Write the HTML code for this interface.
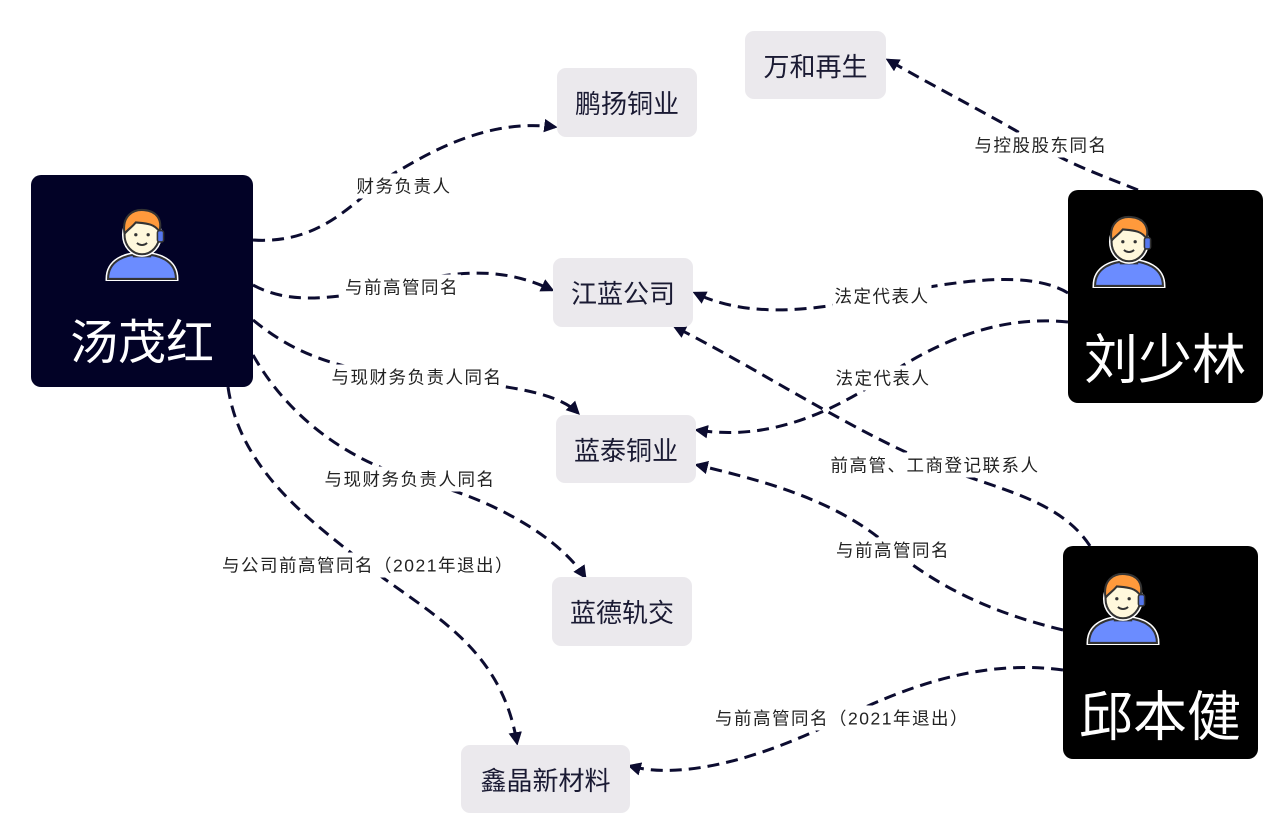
<!DOCTYPE html>
<html><head><meta charset="utf-8"><style>
body{margin:0;width:1288px;height:828px;background:#fff;position:relative;overflow:hidden;font-family:"Liberation Sans","Noto Sans CJK SC",sans-serif}
.b{position:absolute;background:#ebe9ed;border-radius:9px;color:#1a1a33;font-size:26px;display:flex;align-items:center;justify-content:center}
.p{position:absolute;border-radius:10px;color:#fff}
.p span{position:absolute;white-space:nowrap;transform:translate(-50%,-50%)}
.l{position:absolute;background:#fff;font-size:17.5px;letter-spacing:1.5px;color:#222;white-space:nowrap;transform:translate(-50%,-50%);padding:0 2px}
svg{position:absolute;left:0;top:0}
</style></head><body>
<svg width="1288" height="828">
<defs><marker id="a" viewBox="0 0 10 10" refX="8" refY="5" markerWidth="4.5" markerHeight="4.5" orient="auto"><path d="M0,0 L10,5 L0,10 z" fill="#0c0c30"/></marker>
<symbol id="av" viewBox="0 0 72 72">
<path d="M3,70 C3,52 20,46 36,46 C52,46 69,52 69,70 Z" fill="#6b8cff" stroke="#fff" stroke-width="5"/>
<path d="M3,70 C3,52 20,46 36,46 C52,46 69,52 69,70 Z" fill="#6b8cff" stroke="#333" stroke-width="2"/>
<rect x="28" y="38" width="16" height="10" fill="#fff8dc" stroke="#333" stroke-width="2"/>
<ellipse cx="36" cy="27" rx="17" ry="19" fill="#fff8dc" stroke="#fff" stroke-width="5"/>
<ellipse cx="36" cy="27" rx="17" ry="19" fill="#fff8dc" stroke="#333" stroke-width="2"/>
<path d="M19,26 C16,8 28,2 38,3 C50,4 56,12 53,24 C48,16 40,16 30,15 C26,20 22,22 19,26Z" fill="#ff9a3c" stroke="#333" stroke-width="2"/>
<circle cx="30" cy="27" r="1.6" fill="#333"/><circle cx="42" cy="27" r="1.6" fill="#333"/>
<path d="M31,35 Q36,39 41,35" fill="none" stroke="#333" stroke-width="1.8"/>
<rect x="51" y="23" width="6" height="11" rx="2" fill="#5577ee" stroke="#333" stroke-width="1.5"/>
</symbol></defs>
<g fill="none" stroke="#0c0c30" stroke-width="3" stroke-dasharray="12,7" marker-end="url(#a)">
<path d="M253,240 C330,245 360,190 400,170 C450,140 500,120 555,127"/>
<path d="M253,285 C290,305 330,298 380,290 C450,270 500,265 552,290"/>
<path d="M253,320 C290,350 330,370 420,378 C520,385 560,395 578,413"/>
<path d="M253,355 C290,420 350,460 410,478 C500,500 560,540 585,577"/>
<path d="M228,387 C240,470 310,520 360,560 C420,610 500,640 517,743"/>
<path d="M1138,190 C1100,175 1060,160 1040,145 C1000,120 940,90 888,60"/>
<path d="M1068,293 C1030,270 960,280 880,296 C800,315 740,315 695,293"/>
<path d="M1068,322 C1000,315 940,340 883,378 C820,420 760,440 697,430"/>
<path d="M1090,546 C1060,500 1000,490 935,465 C850,430 760,370 675,327"/>
<path d="M1063,630 C980,610 930,580 893,550 C840,500 760,480 697,465"/>
<path d="M1063,670 C990,660 920,680 842,718 C760,760 680,780 630,766"/>
</g>
</svg>
<div class="l" style="left:404px;top:186px">财务负责人</div>
<div class="l" style="left:402px;top:287px">与前高管同名</div>
<div class="l" style="left:417px;top:377px">与现财务负责人同名</div>
<div class="l" style="left:410px;top:479px">与现财务负责人同名</div>
<div class="l" style="left:368px;top:565px">与公司前高管同名（2021年退出）</div>
<div class="l" style="left:1041px;top:145px">与控股股东同名</div>
<div class="l" style="left:882px;top:296px">法定代表人</div>
<div class="l" style="left:883px;top:378px">法定代表人</div>
<div class="l" style="left:935px;top:465px">前高管、工商登记联系人</div>
<div class="l" style="left:893px;top:550px">与前高管同名</div>
<div class="l" style="left:842px;top:718px">与前高管同名（2021年退出）</div>

<div class="b" style="left:745px;top:31px;width:141px;height:68px">万和再生</div>
<div class="b" style="left:557px;top:68px;width:140px;height:69px">鹏扬铜业</div>
<div class="b" style="left:553px;top:258px;width:140px;height:69px">江蓝公司</div>
<div class="b" style="left:556px;top:415px;width:140px;height:68px">蓝泰铜业</div>
<div class="b" style="left:552px;top:577px;width:140px;height:69px">蓝德轨交</div>
<div class="b" style="left:461px;top:745px;width:169px;height:68px">鑫晶新材料</div>

<div class="p" style="left:31px;top:175px;width:222px;height:212px;background:#020226">
<svg width="74" height="74" style="left:74px;top:32px"><use href="#av"/></svg>
<span style="left:111px;top:163px;font-size:48px">汤茂红</span></div>
<div class="p" style="left:1068px;top:190px;width:195px;height:213px;background:#000">
<svg width="74" height="74" style="left:24px;top:24px"><use href="#av"/></svg>
<span style="left:97px;top:165px;font-size:54px">刘少林</span></div>
<div class="p" style="left:1063px;top:546px;width:195px;height:213px;background:#000">
<svg width="74" height="74" style="left:23px;top:25px"><use href="#av"/></svg>
<span style="left:97px;top:166px;font-size:54px">邱本健</span></div>
</body></html>
